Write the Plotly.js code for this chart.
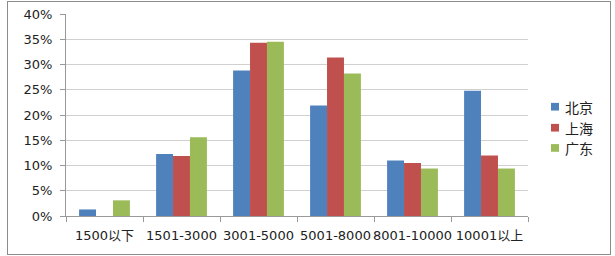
<!DOCTYPE html>
<html><head><meta charset="utf-8">
<script src="https://cdn.plot.ly/plotly-3.0.1.min.js"></script>
<style>
html,body{margin:0;padding:0;background:#fff;}
#wrap{position:absolute;left:7px;top:1px;width:604px;height:254px;border:1px solid #8c8c8c;box-sizing:border-box;}
#chart{position:absolute;left:0;top:0;width:615px;height:256px;}
</style></head>
<body>
<div id="wrap"></div>
<div id="chart"></div>
<script>
var categories = ["1500以下","1501-3000","3001-5000","5001-8000","8001-10000","10001以上"];
var beijing  = [0.013, 0.123, 0.288, 0.219, 0.110, 0.248];
var shanghai = [0.000, 0.119, 0.343, 0.314, 0.105, 0.120];
var guangdong= [0.031, 0.156, 0.345, 0.282, 0.094, 0.094];
var seriesNames = ["北京","上海","广东"];
var colors = ["#4F81BD","#C0504D","#9BBB59"];
var vals = [beijing, shanghai, guangdong];
var traces = vals.map(function(v,i){
  return {type:"bar", x:categories, y:v, name:seriesNames[i], marker:{color:colors[i]}};
});
var font = "DejaVu Sans, Noto Sans CJK SC, sans-serif";
// custom legend (small squares close to text, like the reference)
var legY = [0.541, 0.437, 0.337];
var shapes = [], annotations = [];
seriesNames.forEach(function(n,i){
  shapes.push({type:"rect", xref:"paper", yref:"paper", x0:1.0498, x1:1.0671,
               y0:legY[i]-0.019, y1:legY[i]+0.019, fillcolor:colors[i], line:{width:0}});
  annotations.push({xref:"paper", yref:"paper", x:1.0758, y:legY[i], xanchor:"left", yanchor:"middle",
               text:n, showarrow:false, font:{family:"Noto Sans CJK SC, sans-serif", size:14, color:"#222"}});
});
var layout = {
  width:615, height:256,
  margin:{l:66, r:87, t:14, b:40, pad:0},
  paper_bgcolor:"rgba(0,0,0,0)", plot_bgcolor:"rgba(0,0,0,0)",
  barmode:"group", bargap:0.34, bargroupgap:0,
  font:{family:font, size:13, color:"#333"},
  xaxis:{type:"category", showgrid:false, showline:true, linecolor:"#999", linewidth:1,
         ticks:"outside", tickson:"boundaries", ticklen:5, tickcolor:"#999", tickangle:0,
         ticklabelstandoff:7,
         tickfont:{family:font, size:13, color:"#222"}, fixedrange:true},
  yaxis:{range:[0,0.4], dtick:0.05, tickformat:".0%", showgrid:true, gridcolor:"#d0d0d0",
         showline:true, linecolor:"#999", ticks:"outside", ticklen:5, tickcolor:"#999",
         ticklabelstandoff:5,
         zeroline:false, tickfont:{family:font, size:13, color:"#222"}, fixedrange:true},
  shapes:shapes, annotations:annotations,
  showlegend:false
};
Plotly.newPlot("chart", traces, layout, {displayModeBar:false, staticPlot:true});
</script>
</body></html>
